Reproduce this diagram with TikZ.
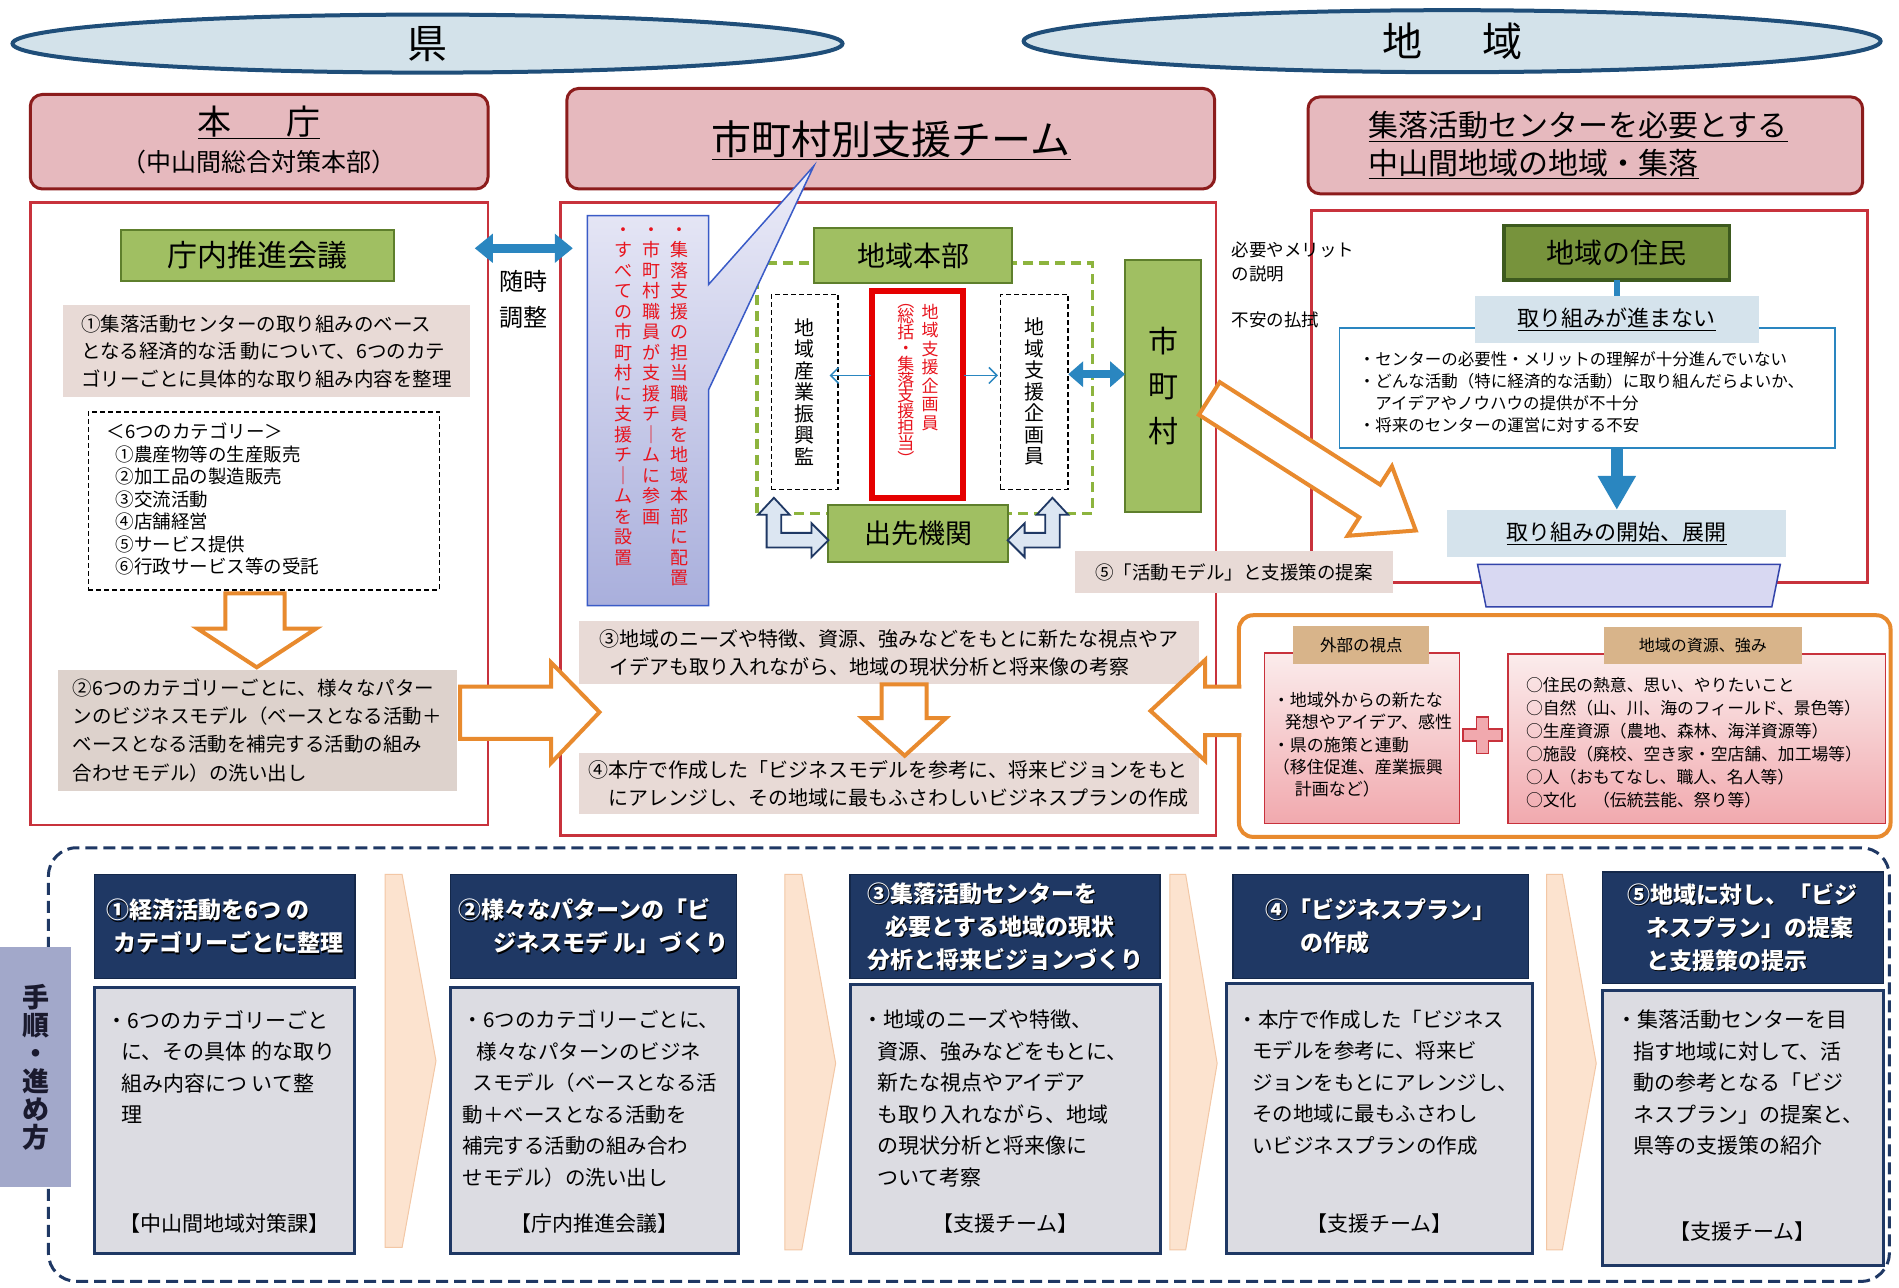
\documentclass[tikz,border=0pt]{standalone}
\usepackage{fontspec}
\setmainfont{Noto Sans CJK JP}
\usetikzlibrary{shapes.geometric,arrows.meta}
\definecolor{ellfill}{HTML}{D3E2EA}
\definecolor{ellline}{HTML}{1F4E79}
\definecolor{hdrfill}{HTML}{E6B9BE}
\definecolor{hdrline}{HTML}{8C1C1C}
\definecolor{panelred}{HTML}{C8323C}
\definecolor{grnfill}{HTML}{A0BF62}
\definecolor{grnline}{HTML}{5E7F2C}
\definecolor{dgrnfill}{HTML}{77933C}
\definecolor{dgrnline}{HTML}{3D5A1E}
\definecolor{txtbox}{HTML}{E8DAD6}
\definecolor{txtbox2}{HTML}{DDD2CC}
\definecolor{arrblue}{HTML}{2A86C0}
\definecolor{ltblue}{HTML}{D5E3EC}
\definecolor{orng}{HTML}{E88A2E}
\definecolor{navy}{HTML}{1F3864}
\definecolor{navydark}{HTML}{14284A}
\definecolor{bodygray}{HTML}{DCDCE2}
\definecolor{chev}{HTML}{FCE3CF}
\definecolor{chevline}{HTML}{F3C7A5}
\definecolor{tabfill}{HTML}{A2A8CA}
\definecolor{calltop}{HTML}{ECECF8}
\definecolor{callbot}{HTML}{A9AFDC}
\definecolor{callline}{HTML}{3A5BC7}
\definecolor{tanc}{HTML}{D8B48A}
\definecolor{pinktop}{HTML}{FBECEC}
\definecolor{pinkbot}{HTML}{F1A9AE}
\definecolor{redtxt}{HTML}{E8141E}
\definecolor{dashgreen}{HTML}{8DB43E}
\definecolor{hollowfill}{HTML}{DCE6F2}
\definecolor{trapfill}{HTML}{D8D8F2}
\definecolor{trapline}{HTML}{3344AA}
\definecolor{tabtext}{HTML}{1A1A2E}
\newcommand\fsz[2]{\fontsize{#1pt}{#2pt}\selectfont}
\makeatletter
\def\vt@stop{\vt@stop}
\newcommand\vtext[2]{\vbox{\baselineskip=#1\lineskiplimit=-1000pt\lineskip=0pt\vt@loop#2\vt@stop}}
\def\vt@loop#1{\ifx#1\vt@stop\else\hbox to 1.1em{\hss#1\hss}\expandafter\vt@loop\fi}
\makeatother
\newcommand\bx[7]{%
  \pgfmathsetmacro\bxw{(#5-#3)*1.2111}%
  \pgfmathsetmacro\bxh{(#6-#4)*1.2111}%
  \node[#2,minimum width=\bxw pt,minimum height=\bxh pt] (#1) at ({(#3+#5)/2},{(#4+#6)/2}) {#7};}
\newcommand\htext[3]{%
  \node[hfont,align=left,text=black] at ([shift={(1.2pt,-1.2pt)}]#2.center) {#3};
  \node[hfont,align=left,text=white] (#1) at (#2.center) {#3};}
\tikzset{
 hdr/.style={draw=hdrline,line width=3pt,fill=hdrfill,rounded corners=12pt},
 panel/.style={draw=panelred,line width=2.5pt,fill=white},
 gbox/.style={draw=grnline,line width=2pt,fill=grnfill},
 dgbox/.style={draw=dgrnline,line width=3.5pt,fill=dgrnfill},
 tbox/.style={fill=txtbox,align=left},
 tbox2/.style={fill=txtbox2,align=left},
 dbox/.style={draw=black,line width=1.5pt,fill=white,dash pattern=on 5pt off 3pt},
 redbox/.style={draw=red!90!black,line width=6pt,fill=white},
 lbbox/.style={fill=ltblue},
 bluebox/.style={draw=arrblue,line width=1.5pt,fill=white},
 obox/.style={draw=orng,line width=4pt,fill=white,rounded corners=14pt},
 pinkbox/.style={draw=panelred,line width=1.5pt,top color=pinktop,bottom color=pinkbot},
 tabbox/.style={fill=tanc},
 blockarr/.style={draw=orng,line width=4pt,fill=white,line join=miter},
 bdarrow/.style={draw=arrblue,line width=9pt,{Triangle[length=18pt,width=28pt]}-{Triangle[length=18pt,width=28pt]}},
 bdarrow2/.style={draw=arrblue,line width=8pt,{Triangle[length=15pt,width=25pt]}-{Triangle[length=15pt,width=25pt]}},
 thinarr/.style={draw=arrblue,line width=1.5pt,-{Straight Barb[length=8pt,width=16pt]}},
 hollow/.style={draw=navy,line width=1.8pt,fill=hollowfill,line join=miter},
 phdr/.style={fill=navy,draw=navydark,line width=1.5pt},
 pbody/.style={fill=bodygray,draw=navy,line width=3pt},
 chevst/.style={fill=chev,draw=chevline,line width=1pt},
 procst/.style={draw=navy,line width=3pt,dash pattern=on 12pt off 6pt,rounded corners=28pt},
 tejunst/.style={fill=tabfill,text=tabtext},
 hfont/.style={font={\fsz{23}{33}\bfseries}},
 bfont/.style={font={\fsz{21}{31.5}}},
}
\begin{document}
\begin{tikzpicture}[x=1.2111pt,y=-1.2111pt,every node/.style={inner sep=0pt,outer sep=0pt}]
\useasboundingbox (0,0) rectangle (1568,1063);
\fill[white] (0,0) rectangle (1568,1063);

% ---------- top ellipses ----------
\node[ellipse,draw=ellline,line width=4pt,fill=ellfill,minimum width=830pt,minimum height=58pt,font={\fsz{40}{40}}] (ken) at (353,36) {県};
\node[ellipse,draw=ellline,line width=4pt,fill=ellfill,minimum width=857pt,minimum height=62pt,font={\fsz{40}{40}}] (chiiki) at (1199,34) {地\hspace{1.5em}域};

% ---------- headers ----------
\bx{honcho}{hdr}{25}{78}{403}{156}{}
\node[font={\fsz{34}{34}}] (honchoT) at (214,101) {\underline{本\hspace{1.6em}庁}};
\node[font={\fsz{25}{25}}] (honchoS) at (214,134) {（中山間総合対策本部）};
\bx{team}{hdr}{468}{73}{1003}{156}{}
\node[font={\fsz{40}{40}}] (teamT) at (736,116) {\underline{市町村別支援チーム}};
\bx{shuraku}{hdr}{1080}{80}{1538}{160}{}
\node[anchor=west,align=left,font={\fsz{30}{38}}] (shurakuT) at (1130,120) {\underline{集落活動センターを必要とする}\\\underline{中山間地域の地域・集落}};

% ---------- panels ----------
\bx{lpanel}{panel}{25}{167}{403}{681}{}
\bx{mpanel}{panel}{463}{167}{1004}{690}{}
\bx{rpanel}{panel}{1083}{174}{1542}{481}{}

% ---------- left panel ----------
\bx{kaigi}{gbox,font={\fsz{30}{30}}}{100}{190}{325}{232}{庁内推進会議}
\bx{t1}{tbox,font={\fsz{19.5}{27.5}}}{52}{252}{388}{328}{①集落活動センターの取り組みのベース\\となる経済的な活 動について、6つのカテ\\ゴリーごとに具体的な取り組み内容を整理}
\bx{cats}{dbox}{73}{340}{363}{487}{}
\node[anchor=west,align=left,font={\fsz{18.5}{22.5}}] (catsT) at (88,412) {＜6つのカテゴリー＞\\\hspace*{0.5em}①農産物等の生産販売\\\hspace*{0.5em}②加工品の製造販売\\\hspace*{0.5em}③交流活動\\\hspace*{0.5em}④店舗経営\\\hspace*{0.5em}⑤サービス提供\\\hspace*{0.5em}⑥行政サービス等の受託};
\draw[blockarr] (186,490) -- (235,490) -- (235,519) -- (261,519) -- (212,551) -- (163,519) -- (186,519) -- cycle;
\bx{t2}{tbox2,font={\fsz{19.5}{28.3}}}{48}{553}{377}{653}{②6つのカテゴリーごとに、様々なパター\\ンのビジネスモデル（ベースとなる活動＋\\ベースとなる活動を補完する活動の組み\\合わせモデル）の洗い出し}
\draw[blockarr] (380,567) -- (455,567) -- (455,547) -- (495,588) -- (455,630) -- (455,610) -- (380,610) -- cycle;

% between panels
\coordinate (za) at (392,205);
\coordinate (zb) at (473,205);
\draw[bdarrow] (za) -- (zb);
\node[align=center,font={\fsz{24}{36}}] (zuiji) at (432,247) {随時\\調整};

% ---------- middle panel ----------
\draw[dashgreen,line width=3.5pt,dash pattern=on 10pt off 6pt] (625,217) rectangle (902,424);
\bx{honbu}{gbox,font={\fsz{28}{28}}}{672}{188}{836}{234}{地域本部}
\bx{sangyo}{dbox,font={\fsz{20}{20}}}{637}{243}{692}{404}{\vtext{21.5pt}{地域産業振興監}}
\bx{kikaku}{redbox}{720}{240}{795}{411}{}
\node[anchor=north,text=redtxt,font={\fsz{17}{17}}] (kikakuA) at (768,251) {\vtext{18.5pt}{地域支援企画員}};
\node[anchor=north,text=redtxt,font={\fsz{17}{17}}] (kikakuB) at (748,251) {\vtext{15.8pt}{︵総括・集落支援担当︶}};
\bx{kikaku2}{dbox,font={\fsz{20}{20}}}{826}{243}{882}{404}{\vtext{21.5pt}{地域支援企画員}}
\coordinate (ka) at (719,310);
\coordinate (kb) at (685,310);
\coordinate (kc) at (796,310);
\coordinate (kd) at (824,310);
\draw[thinarr] (ka) -- (kb);
\draw[thinarr] (kc) -- (kd);
\bx{desaki}{gbox,font={\fsz{27}{27}}}{684}{417}{832}{464}{出先機関}
\draw[hollow] (633,452) -- (633,425) -- (626,425) -- (639,411) -- (652,425) -- (645,425) -- (645,440) -- (670,440) -- (670,432) -- (684,446) -- (670,460) -- (670,452) -- cycle;
\draw[hollow] (875,452) -- (875,425) -- (882,425) -- (869,411) -- (856,425) -- (863,425) -- (863,440) -- (846,440) -- (846,432) -- (832,446) -- (846,460) -- (846,452) -- cycle;

% callout
\draw[callline,line width=1.5pt,top color=calltop,bottom color=callbot] (485,178) -- (585,178) -- (585,235) -- (672,137) -- (585,322) -- (585,500) -- (485,500) -- cycle;
\node[anchor=north,text=redtxt,font={\fsz{18}{18}}] (callA) at (561,188) {\vtext{20.5pt}{・集落支援の担当職員を地域本部に配置}};
\node[anchor=north,text=redtxt,font={\fsz{18}{18}}] (callB) at (538,188) {\vtext{20.5pt}{・市町村職員が支援チ｜ムに参画}};
\node[anchor=north,text=redtxt,font={\fsz{18}{18}}] (callC) at (515,188) {\vtext{20.5pt}{・すべての市町村に支援チ｜ムを設置}};

\bx{shicho}{gbox,font={\fsz{30}{30}}}{929}{215}{992}{423}{\vtext{45pt}{市町村}}
\coordinate (sa) at (882,309);
\coordinate (sb) at (929,309);
\draw[bdarrow2] (sa) -- (sb);

% orange diagonal arrow
\draw[blockarr] (1007.1,315.5) -- (1139.6,400.2) -- (1149.3,385.0) -- (1169,438) -- (1112.7,442.4) -- (1122.4,427.2) -- (989.9,342.5) -- cycle;

\bx{t3}{tbox,font={\fsz{20}{28}}}{478}{513}{990}{565}{③地域のニーズや特徴、資源、強みなどをもとに新たな視点やア\\\hspace*{0.5em}イデアも取り入れながら、地域の現状分析と将来像の考察}
\bx{t4}{tbox,font={\fsz{20}{28}}}{478}{622}{990}{672}{④本庁で作成した「ビジネスモデルを参考に、将来ビジョンをもと\\\hspace*{1em}にアレンジし、その地域に最もふさわしいビジネスプランの作成}
\draw[blockarr] (728,565) -- (765,565) -- (765,593) -- (781,593) -- (747,624) -- (712,593) -- (728,593) -- cycle;

% ---------- right panel ----------
\node[anchor=west,align=left,font={\fsz{17.5}{24}}] (hitsuyo) at (1017,216) {必要やメリット\\の説明};
\node[anchor=west,font={\fsz{17.5}{17.5}}] (fuan) at (1017,264) {不安の払拭};
\bx{kadai}{bluebox}{1106}{271}{1515}{370}{}
\node[anchor=west,align=left,font={\fsz{16.5}{22}}] (kadaiT) at (1122,324) {・センターの必要性・メリットの理解が十分進んでいない\\・どんな活動（特に経済的な活動）に取り組んだらよいか、\\\hspace*{1em}アイデアやノウハウの提供が不十分\\・将来のセンターの運営に対する不安};
\bx{jumin}{dgbox,font={\fsz{28}{28}}}{1242}{186}{1428}{231}{地域の住民}
\bx{susumanai}{lbbox,font={\fsz{22}{22}}}{1218}{244}{1452}{283}{\underline{取り組みが進まない}}
\draw[arrblue,line width=6pt] (jumin.south) -- (susumanai.north);
\bx{kaishi}{lbbox,font={\fsz{22}{22}}}{1195}{421}{1475}{460}{\underline{取り組みの開始、展開}}
\draw[arrblue,line width=12pt,-{Triangle[length=34pt,width=36pt]}] (kadai.south -| kaishi.north) -- (kaishi.north);
\draw[trapline,line width=1.5pt,fill=trapfill] (1220,466) -- (1470,466) -- (1463,501) -- (1227,501) -- cycle;
\bx{t5}{tbox,font={\fsz{18.5}{18.5}}}{888}{455}{1150}{490}{⑤「活動モデル」と支援策の提案}

% ---------- orange box ----------
\bx{ext}{obox}{1023}{508}{1561}{691}{}
\bx{gaibu}{pinkbox}{1044}{539}{1205}{680}{}
\bx{gaibuT}{tabbox,font={\fsz{16.5}{16.5}}}{1068}{517}{1180}{548}{外部の視点}
\node[anchor=west,align=left,font={\fsz{17}{22.4}}] (gaibuX) at (1051,615) {・地域外からの新たな\\\hspace*{0.7em}発想やアイデア、感性\\・県の施策と連動\\（移住促進、産業振興\\\hspace*{1.3em}計画など）};
\draw[draw=panelred,line width=1.5pt,fill=pinkbot] (1219,592) -- (1229,592) -- (1229,602) -- (1240,602) -- (1240,612) -- (1229,612) -- (1229,622) -- (1219,622) -- (1219,612) -- (1208,612) -- (1208,602) -- (1219,602) -- cycle;
\bx{shigen}{pinkbox}{1245}{540}{1557}{680}{}
\bx{shigenT}{tabbox,font={\fsz{16}{16}}}{1324}{518}{1488}{548}{地域の資源、強み}
\node[anchor=west,align=left,font={\fsz{16.8}{23}}] (shigenX) at (1260,613) {○住民の熱意、思い、やりたいこと\\○自然（山、川、海のフィールド、景色等）\\○生産資源（農地、森林、海洋資源等）\\○施設（廃校、空き家・空店舗、加工場等）\\○人（おもてなし、職人、名人等）\\○文化　（伝統芸能、祭り等）};
\fill[white] (1035,567) -- (995,567) -- (995,545) -- (950,587) -- (995,628) -- (995,607) -- (1035,607) -- cycle;
\draw[orng,line width=4pt,line join=miter] (1025,567) -- (995,567) -- (995,545) -- (950,587) -- (995,628) -- (995,607) -- (1025,607);

% ---------- bottom process ----------
\bx{proc}{procst}{40}{700}{1560}{1058}{}
\bx{tejun}{tejunst,font={\fsz{27}{27}\bfseries}}{0}{782}{59}{980}{\vtext{28pt}{手順・進め方}}

\draw[chevst] (318,722) -- (332,722) -- (360,876) -- (332,1030) -- (318,1030) -- cycle;
\draw[chevst] (648,722) -- (662,722) -- (690,878) -- (662,1032) -- (648,1032) -- cycle;
\draw[chevst] (966,722) -- (979,722) -- (1005,878) -- (979,1032) -- (966,1032) -- cycle;
\draw[chevst] (1277,722) -- (1290,722) -- (1318,878) -- (1290,1032) -- (1277,1032) -- cycle;

\bx{h1}{phdr}{78}{722}{293}{808}{}
\bx{h2}{phdr}{372}{722}{608}{808}{}
\bx{h3}{phdr}{702}{722}{958}{808}{}
\bx{h4}{phdr}{1018}{722}{1262}{808}{}
\bx{h5}{phdr}{1323}{720}{1555}{812}{}
\htext{h1T}{h1}{①経済活動を6つ の\\\hspace*{0.3em}カテゴリーごとに整理}
\htext{h2T}{h2}{②様々なパターンの「ビ\\\hspace*{1.5em}ジネスモデ ル」づくり}
\htext{h3T}{h3}{③集落活動センターを\\\hspace*{0.8em}必要とする地域の現状\\分析と将来ビジョンづくり}
\htext{h4T}{h4}{④「ビジネスプラン」\\\hspace*{1.5em}の作成}
\htext{h5T}{h5}{⑤地域に対し、「ビジ\\\hspace*{0.8em}ネスプラン」の提案\\\hspace*{0.8em}と支援策の提示}

\bx{b1}{pbody}{78}{815}{293}{1035}{}
\bx{b2}{pbody}{372}{815}{610}{1035}{}
\bx{b3}{pbody}{702}{813}{958}{1035}{}
\bx{b4}{pbody}{1013}{812}{1265}{1035}{}
\bx{b5}{pbody}{1323}{818}{1555}{1045}{}

\node[anchor=north west,align=left,bfont] (b1T) at (88,834) {・6つのカテゴリーごと\\\hspace*{0.7em}に、その具体 的な取り\\\hspace*{0.7em}組み内容につ いて整\\\hspace*{0.7em}理};
\node[anchor=north west,align=left,font={\fsz{20.5}{31.5}}] (b2T) at (382,834) {・6つのカテゴリーごとに、\\\hspace*{0.7em}様々なパターンのビジネ\\\hspace*{0.5em}スモデル（ベースとなる活\\動＋ベースとなる活動を\\補完する活動の組み合わ\\せモデル）の洗い出し};
\node[anchor=north west,align=left,bfont] (b3T) at (712,834) {・地域のニーズや特徴、\\\hspace*{0.7em}資源、強みなどをもとに、\\\hspace*{0.7em}新たな視点やアイデア\\\hspace*{0.7em}も取り入れながら、地域\\\hspace*{0.7em}の現状分析と将来像に\\\hspace*{0.7em}ついて考察};
\node[anchor=north west,align=left,font={\fsz{20.5}{31.5}}] (b4T) at (1022,834) {・本庁で作成した「ビジネス\\\hspace*{0.7em}モデルを参考に、将来ビ\\\hspace*{0.7em}ジョンをもとにアレンジし、\\\hspace*{0.7em}その地域に最もふさわし\\\hspace*{0.7em}いビジネスプランの作成};
\node[anchor=north west,align=left,bfont] (b5T) at (1335,834) {・集落活動センターを目\\\hspace*{0.8em}指す地域に対して、活\\\hspace*{0.8em}動の参考となる「ビジ\\\hspace*{0.8em}ネスプラン」の提案と、\\\hspace*{0.8em}県等の支援策の紹介};

\node[font={\fsz{21}{21}}] (f1) at (185,1010) {【中山間地域対策課】};
\node[font={\fsz{21}{21}}] (f2) at (491,1010) {【庁内推進会議】};
\node[font={\fsz{21}{21}}] (f3) at (830,1010) {【支援チーム】};
\node[font={\fsz{21}{21}}] (f4) at (1139,1010) {【支援チーム】};
\node[font={\fsz{21}{21}}] (f5) at (1439,1017) {【支援チーム】};
\end{tikzpicture}
\end{document}
